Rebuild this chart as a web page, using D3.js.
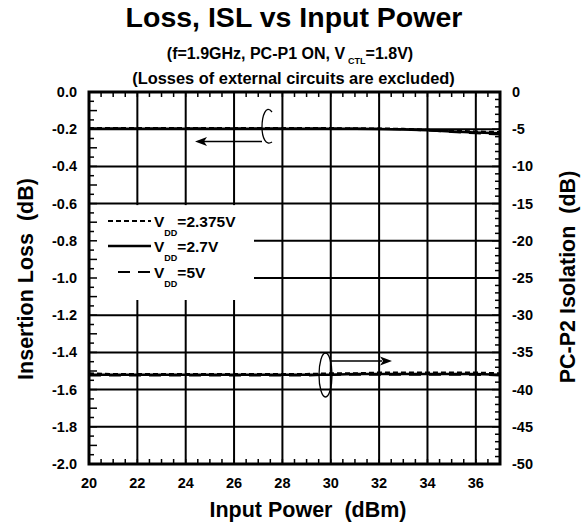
<!DOCTYPE html>
<html><head><meta charset="utf-8">
<script src="https://cdn.jsdelivr.net/npm/d3@7"></script>
<style>body{margin:0;background:#fff}svg text{font-family:"Liberation Sans",Arial,sans-serif;font-weight:bold;fill:#000;white-space:pre}</style>
</head><body>
<script>
const inputPower = [20,21,22,23,24,25,26,27,28,29,30,31,32,33,34,35,36,37];
const lossVdd2375 = [-0.194,-0.194,-0.194,-0.194,-0.194,-0.194,-0.194,-0.194,-0.194,-0.194,-0.194,-0.195,-0.196,-0.198,-0.203,-0.208,-0.212,-0.215];
const lossVdd27   = [-0.198,-0.198,-0.198,-0.198,-0.198,-0.198,-0.198,-0.198,-0.198,-0.198,-0.198,-0.198,-0.199,-0.201,-0.206,-0.212,-0.218,-0.222];
const lossVdd5    = [-0.196,-0.196,-0.196,-0.196,-0.196,-0.196,-0.196,-0.196,-0.196,-0.196,-0.196,-0.197,-0.198,-0.200,-0.207,-0.215,-0.222,-0.228];
const islVdd2375  = [-37.8,-37.9,-37.9,-37.9,-37.9,-37.9,-37.9,-37.9,-37.9,-37.9,-37.8,-37.8,-37.7,-37.7,-37.7,-37.7,-37.7,-37.8];
const islVdd27    = [-38.0,-38.0,-38.0,-38.0,-38.0,-38.0,-38.0,-38.0,-38.0,-38.0,-38.0,-37.9,-37.9,-37.9,-37.9,-37.9,-37.9,-38.0];
const islVdd5     = [-38.1,-38.1,-38.1,-38.1,-38.1,-38.1,-38.1,-38.1,-38.1,-38.1,-38.0,-38.0,-38.0,-38.0,-38.0,-38.0,-38.0,-38.1];
const xTicks = [20,22,24,26,28,30,32,34,36];
const yLeftTicks = [0,-0.2,-0.4,-0.6,-0.8,-1.0,-1.2,-1.4,-1.6,-1.8,-2.0];
const yRightTicks = [0,-5,-10,-15,-20,-25,-30,-35,-40,-45,-50];
const legendLabels = ["=2.375V","=2.7V","=5V"];

const W=581,H=527;
const L=89,R=500,T=92,B=464;
const svg=d3.select("body").append("svg").attr("width",W).attr("height",H);
const x=d3.scaleLinear().domain([20,37]).range([L,R]);
const yl=d3.scaleLinear().domain([-2,0]).range([B,T]);
const yr=d3.scaleLinear().domain([-50,0]).range([B,T]);

// grid
const grid=svg.append("g").attr("stroke","#000").attr("stroke-width",2);
xTicks.slice(1).forEach(v=>grid.append("line").attr("x1",x(v)).attr("x2",x(v)).attr("y1",T).attr("y2",B));
yLeftTicks.slice(1,-1).forEach(v=>grid.append("line").attr("x1",L).attr("x2",R).attr("y1",yl(v)).attr("y2",yl(v)));

// legend box masking grid
svg.append("rect").attr("x",L+1).attr("y",yl(-0.6)+1.5).attr("width",253-L).attr("height",300-yl(-0.6)-1.5).attr("fill","#fff");

// minor ticks
const tk=svg.append("g").attr("stroke","#000").attr("stroke-width",1.5);
d3.range(20,37.01,0.5).forEach(v=>{
  tk.append("line").attr("x1",x(v)).attr("x2",x(v)).attr("y1",B).attr("y2",B-5);
  tk.append("line").attr("x1",x(v)).attr("x2",x(v)).attr("y1",T).attr("y2",T+5);
});
d3.range(0,-2.001,-0.05).forEach(v=>{
  const len = Math.abs(Math.round(v*10)-v*10)<1e-6 ? 8:5;
  tk.append("line").attr("x1",L).attr("x2",L+len).attr("y1",yl(v)).attr("y2",yl(v));
});
d3.range(0,-50.01,-1).forEach(v=>{
  tk.append("line").attr("x1",R).attr("x2",R-(v%5===0?8:5)).attr("y1",yr(v)).attr("y2",yr(v));
});

// data lines
const lineL=d3.line().x((d,i)=>x(inputPower[i])).y(d=>yl(d));
const lineR=d3.line().x((d,i)=>x(inputPower[i])).y(d=>yr(d));
const styles=[{dash:"5,3",w:2},{dash:null,w:2.5},{dash:"12,8",w:2}];
[lossVdd2375,lossVdd27,lossVdd5].forEach((s,i)=>svg.append("path").attr("d",lineL(s)).attr("fill","none").attr("stroke","#000").attr("stroke-width",styles[i].w).attr("stroke-dasharray",styles[i].dash));
[islVdd2375,islVdd27,islVdd5].forEach((s,i)=>svg.append("path").attr("d",lineR(s)).attr("fill","none").attr("stroke","#000").attr("stroke-width",styles[i].w).attr("stroke-dasharray",styles[i].dash));

// frame
svg.append("rect").attr("x",L).attr("y",T).attr("width",R-L).attr("height",B-T).attr("fill","none").attr("stroke","#000").attr("stroke-width",3);

// tick labels
const tfs=14.5;
xTicks.forEach(v=>svg.append("text").attr("x",x(v)).attr("y",488).attr("text-anchor","middle").attr("font-size",tfs).text(v));
yLeftTicks.forEach(v=>svg.append("text").attr("x",L-12).attr("y",yl(v)+5).attr("text-anchor","end").attr("font-size",tfs).text(v.toFixed(1)));
yRightTicks.forEach(v=>svg.append("text").attr("x",R+12).attr("y",yr(v)+5).attr("text-anchor","start").attr("font-size",tfs).text(v));

// titles
svg.append("text").attr("x",294).attr("y",27).attr("text-anchor","middle").attr("font-size",28.5).text("Loss, ISL vs Input Power");
const st=svg.append("text").attr("x",290).attr("y",59).attr("text-anchor","middle").attr("font-size",16);
st.append("tspan").text("(f=1.9GHz, PC-P1 ON, V");
st.append("tspan").attr("font-size",9).attr("dy",5).attr("dx",3).text("CTL");
st.append("tspan").attr("dy",-5).text("=1.8V)");
svg.append("text").attr("x",293.5).attr("y",84).attr("text-anchor","middle").attr("font-size",16.4).text("(Losses of external circuits are excluded)");
svg.append("text").attr("x",308).attr("y",517).attr("text-anchor","middle").attr("font-size",21.5).text("Input Power  (dBm)");
svg.append("text").attr("transform","translate(33,279) rotate(-90)").attr("text-anchor","middle").attr("font-size",21.5).text("Insertion Loss  (dB)");
svg.append("text").attr("transform","translate(575,277) rotate(-90)").attr("text-anchor","middle").attr("font-size",21.5).text("PC-P2 Isolation  (dB)");

// legend
const ly=[221,246,272];
const lx=[[108,151],[108,151],[118,151]];
legendLabels.forEach((lab,i)=>{
  svg.append("line").attr("x1",lx[i][0]).attr("x2",lx[i][1]).attr("y1",ly[i]).attr("y2",ly[i]).attr("stroke","#000").attr("stroke-width",i===1?2.5:2).attr("stroke-dasharray",styles[i].dash);
  const t=svg.append("text").attr("x",154).attr("y",ly[i]+6).attr("font-size",15.5);
  t.append("tspan").text("V");
  t.append("tspan").attr("font-size",9).attr("dy",9).attr("dx",0).text("DD");
  t.append("tspan").attr("dy",-9).attr("dx",0).text(lab);
});

// annotations
const ann=svg.append("g").attr("fill","none").attr("stroke","#000").attr("stroke-width",1.3);
ann.append("path").attr("d","M272,112 C266,104 262,116 262,127 C262,138 266,146 272,142");
ann.append("line").attr("x1",262).attr("x2",204).attr("y1",141.5).attr("y2",141.5);
svg.append("path").attr("d","M195,141.5 L207,137 L204,141.5 L207,146 Z").attr("fill","#000");
ann.append("ellipse").attr("cx",325.5).attr("cy",375).attr("rx",6.5).attr("ry",22);
ann.append("line").attr("x1",331).attr("x2",382).attr("y1",361).attr("y2",361);
svg.append("path").attr("d","M392,361 L380,356.5 L383,361 L380,365.5 Z").attr("fill","#000");
</script>
</body></html>
